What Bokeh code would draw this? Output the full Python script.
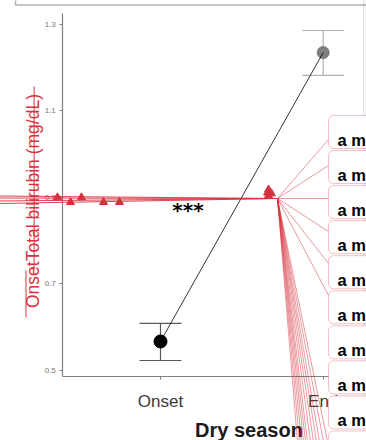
import math
from bokeh.plotting import figure
from bokeh.models import Range1d, LinearAxis, FixedTicker, BoxAnnotation, Span, Grid
from bokeh.core.properties import value
from bokeh.embed import file_html
from bokeh.resources import INLINE

RED = "#d7313e"
W, H = 366, 440

# season summary (total bilirubin, mg/dL)
seasons = ["Onset", "End"]
season_pos = [1, 2]
mean_bili = [0.566, 1.234]
lower_bili = [0.522, 1.181]
upper_bili = [0.608, 1.285]
point_colors = ["black", "#7f7f7f"]
point_sizes = [13, 12]
bar_colors = ["#5a5a5a", "#b3b3b3"]

y_ticks = [0.5, 0.7, 0.9, 1.1, 1.3]

# individual readings shown as triangles
tri_x = [0.367, 0.447, 0.514, 0.650, 0.748, 1.664, 1.658, 1.664, 1.682]
tri_y = [0.899, 0.888, 0.899, 0.888, 0.888, 0.917, 0.910, 0.904, 0.908]

label_texts = ["a m"] * 9
n_boxes = 10

# ranges chosen so the frame fills the whole canvas
XS, XE = 1 - 160 / 162.7, 1 + 206 / 162.7
YS, YE = 0.5 - 70.5 / 432.5, 1.3 + 23.5 / 432.5


def xd(px):
    return XS + px * (XE - XS) / W


def yd(py):
    return YE - py * (YE - YS) / H


p = figure(width=W, height=H, x_range=Range1d(XS, XE), y_range=Range1d(YS, YE),
           x_axis_location=None, y_axis_location=None, toolbar_location=None,
           output_backend="svg", min_border=0)
p.outline_line_color = None
p.background_fill_color = "white"
p.border_fill_color = "white"
p.center = [r for r in p.center if not isinstance(r, Grid)]

# light strip at the right edge of the panel
p.add_layout(BoxAnnotation(left=xd(363), right=xd(370), top=yd(-5), bottom=yd(445),
                           fill_color="#f5f5f5", fill_alpha=1, line_color=None, level="underlay"))
p.add_layout(Span(location=xd(363), dimension="height", line_color="#e2e2e2", line_width=1,
                  level="underlay"))

# legend frame at the top
p.add_layout(BoxAnnotation(left=xd(15), right=xd(380), top=yd(-10), bottom=yd(4.5),
                           fill_alpha=0, line_color="black", line_width=1.5))

# error bars
CAP = 21 / 162.7
p.segment(x0=season_pos, y0=lower_bili, x1=season_pos, y1=upper_bili,
          line_color=bar_colors, line_width=1.2)
p.segment(x0=[x - CAP for x in season_pos], y0=lower_bili,
          x1=[x + CAP for x in season_pos], y1=lower_bili,
          line_color=bar_colors, line_width=1.2)
p.segment(x0=[x - CAP for x in season_pos], y0=upper_bili,
          x1=[x + CAP for x in season_pos], y1=upper_bili,
          line_color=bar_colors, line_width=1.2)

# means and connecting line
p.scatter(season_pos, mean_bili, size=point_sizes, color=point_colors)
p.line(season_pos, mean_bili, line_color="black", line_width=0.8)

# axis title below
p.text(x=[xd(248.5)], y=[yd(429)], text=["Dry season"], text_align="center",
       text_baseline="alphabetic", text_font=value("Liberation Sans"),
       text_font_style="bold", text_font_size="20px", text_color="#1a1a1a")

# y axis title (rotated), with strike-through and underline
p.text(x=[xd(32.3)], y=[yd(200.5)], text=["OnsetTotal bilirubin (mg/dL)"], angle=math.pi / 2,
       text_align="center", text_baseline="alphabetic", text_font=value("Liberation Sans"),
       text_font_size="17.5px", text_color=RED)
p.segment(x0=[xd(25.5), xd(33.6)], y0=[yd(317), yd(269)], x1=[xd(25.5), xd(33.6)],
          y1=[yd(270), yd(86)], line_color=RED, line_width=1)

# axes
yaxis = LinearAxis(fixed_location=xd(62.3), ticker=FixedTicker(ticks=y_ticks),
                   bounds=(yd(376), yd(13)))
xaxis = LinearAxis(fixed_location=yd(376), ticker=FixedTicker(ticks=season_pos),
                   major_label_overrides=dict(zip(season_pos, seasons)),
                   bounds=(xd(62.3), xd(363)))
for ax in (xaxis, yaxis):
    ax.axis_line_color = "#808080"
    ax.axis_line_width = 1.2
    ax.major_tick_line_color = "#808080"
    ax.major_tick_out = 3
    ax.major_tick_in = 0
    ax.minor_tick_out = 0
    ax.minor_tick_in = 0
    ax.major_label_text_font = "Liberation Sans"
yaxis.major_label_text_font_size = "8px"
yaxis.major_label_text_color = "#777777"
yaxis.major_label_standoff = 4
xaxis.major_label_text_font_size = "17px"
xaxis.major_label_text_color = "#3a3a3a"
xaxis.major_label_standoff = 12
p.add_layout(yaxis, "left")
p.add_layout(xaxis, "below")

# leader lines running left
OX, OY = 277, 198
left_ends = [195.5, 197.5, 200.5, 203.0]
p.segment(x0=[xd(OX)] * len(left_ends), y0=[yd(OY)] * len(left_ends),
          x1=[xd(-2)] * len(left_ends), y1=[yd(v) for v in left_ends],
          line_color=RED, line_width=1, line_alpha=0.9, level="overlay")

# triangles
p.scatter(tri_x, tri_y, marker="triangle", size=8, color=RED, level="overlay")

# significance stars
p.text(x=[xd(187.5)], y=[yd(209.5)], text=["***"], text_align="center",
       text_baseline="alphabetic", text_font=value("DejaVu Sans"), text_font_style="bold",
       text_font_size="20px", text_color="black", level="overlay")

# leader lines fanning right
box_ends_y = [139, 165, 198, 231, 263, 295]
bottom_ends_x = [297, 299, 301, 303, 305, 307, 310, 313, 316, 319, 323, 327]
fx1 = [xd(328)] * len(box_ends_y) + [xd(v) for v in bottom_ends_x]
fy1 = [yd(v) for v in box_ends_y] + [yd(441)] * len(bottom_ends_x)
p.segment(x0=[xd(OX)] * len(fx1), y0=[yd(OY)] * len(fx1), x1=fx1, y1=fy1,
          line_color=RED, line_width=0.7, line_alpha=0.7, level="annotation")

# label boxes
for k in range(n_boxes):
    top = 115 + 35.05 * k
    p.add_layout(BoxAnnotation(left=xd(328), right=xd(376), top=yd(top), bottom=yd(top + 33),
                               fill_color="white", fill_alpha=1, line_color=RED,
                               line_width=1, border_radius=5))
p.text(x=[xd(337)] * len(label_texts), y=[yd(139.5 + 35.05 * k) for k in range(len(label_texts))],
       text=label_texts, text_align="left", text_baseline="alphabetic",
       text_font=value("Liberation Sans"), text_font_style="bold", text_font_size="16.5px",
       text_color="black", level="overlay")

open("out.html", "w").write(file_html(p, INLINE))
